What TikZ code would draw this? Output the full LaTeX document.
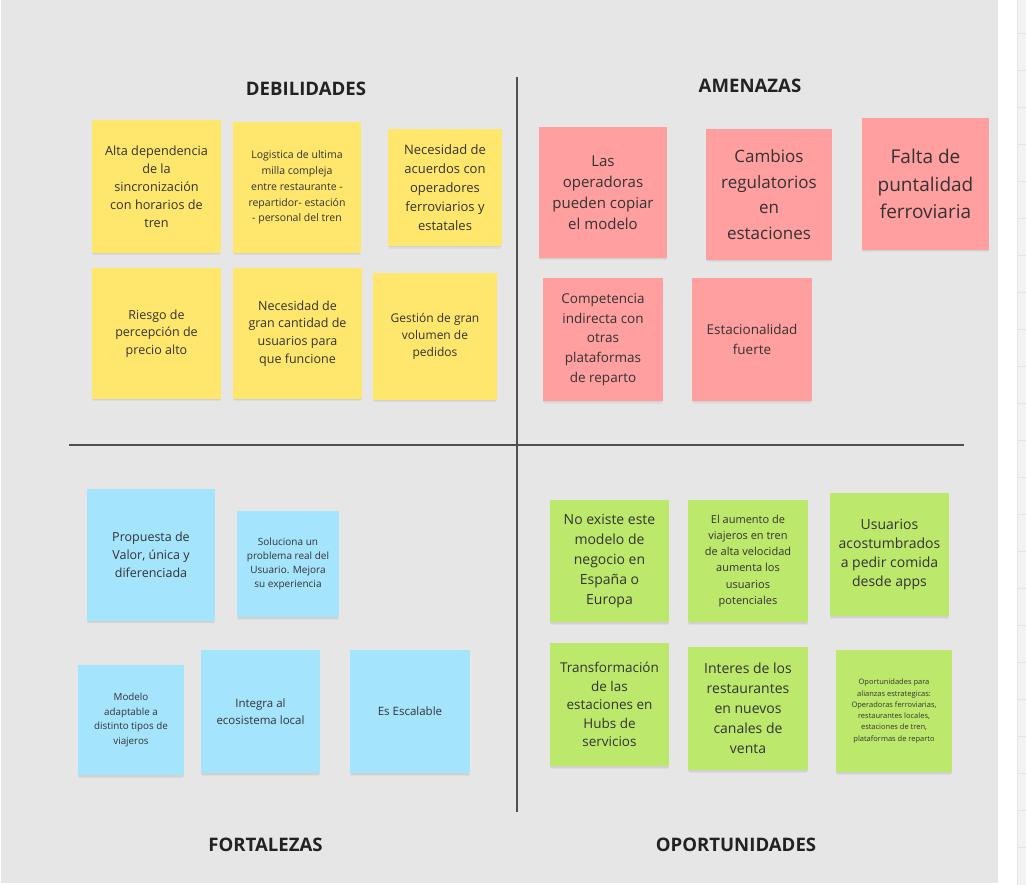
\documentclass[tikz,border=0pt]{standalone}
\usepackage{fontspec}
\setmainfont{Open Sans}
\usetikzlibrary{shadows}
\definecolor{bggray}{HTML}{E6E6E6}
\definecolor{gridgray}{HTML}{F3F3F3}
\definecolor{gridline}{HTML}{E4E4E4}
\definecolor{axis}{HTML}{505050}
\definecolor{notetext}{HTML}{333333}
\definecolor{titletext}{HTML}{222222}
\definecolor{yelnote}{HTML}{FFE66D}
\definecolor{rednote}{HTML}{FF9F9F}
\definecolor{bluenote}{HTML}{A5E4FD}
\definecolor{greennote}{HTML}{BCE86C}
\newcommand\fsz[2]{\fontsize{#1}{#2}\selectfont}
\tikzset{
  note/.style={draw=none, inner sep=0pt, align=center, text=notetext,
    drop shadow={shadow xshift=0pt, shadow yshift=-1.5pt, opacity=0.05, fill=black},
    drop shadow={shadow xshift=0pt, shadow yshift=-3.5pt, shadow scale=0.985, opacity=0.04, fill=black}},
  yel/.style={note, fill=yelnote},
  rednt/.style={note, fill=rednote},
  blu/.style={note, fill=bluenote},
  grn/.style={note, fill=greennote},
  sz/.style n args={2}{minimum width=#1pt, minimum height=#2pt},
  title/.style={font=\bfseries\fsz{18.6}{22}, text=titletext, inner sep=0pt},
  axisline/.style={draw=axis, line width=1.8pt}
}
\begin{document}
\begin{tikzpicture}[x=1pt,y=-1pt]
\useasboundingbox (0,0) rectangle (1026,885);
\fill[white] (0,0) rectangle (1026,885);
\fill[bggray] (1,0) rectangle (998,883);
\fill[gridgray] (1017,0) rectangle (1026,885);
\draw[gridline, line width=0.5pt] (1017,0) -- (1017,885);
\foreach \yy in {33,70,107,144,181,218,255,292,329,366,403,440,477,514,551,588,625,662,699,736,773,810,847}
  \draw[gridline, line width=0.5pt] (1017,\yy) -- (1026,\yy);

% axes
\coordinate (vtop) at (517,77);
\coordinate (vbot) at (517,812);
\coordinate (hleft) at (69,445);
\coordinate (hright) at (964,445);
\draw[axisline] (vtop) -- (vbot);
\draw[axisline] (hleft) -- (hright);

% titles
\node[title] (tdeb) at (306,89) {DEBILIDADES};
\node[title] (tame) at (750,86) {AMENAZAS};
\node[title] (tfor) at (265.5,845) {FORTALEZAS};
\node[title] (topo) at (736,845) {OPORTUNIDADES};

% DEBILIDADES (yellow)
\node[yel, sz={129}{133}, font=\fsz{12.7}{18}] (y1) at (156.5,186.5)
  {Alta dependencia\\de la\\sincronización\\con horarios de\\tren};
\node[yel, sz={128}{131}, font=\fsz{10.5}{15.8}] (y2) at (297,187.5)
  {Logistica de ultima\\milla compleja\\entre restaurante -\\repartidor- estación\\- personal del tren};
\node[yel, sz={114}{117}, font=\fsz{13}{19}] (y3) at (445,187.5)
  {Necesidad de\\acuerdos con\\operadores\\ferroviarios y\\estatales};
\node[yel, sz={129}{131}, font=\fsz{12.5}{17.7}] (y4) at (156.5,333.5)
  {Riesgo de\\percepción de\\precio alto};
\node[yel, sz={129}{131}, font=\fsz{12.5}{17.8}] (y5) at (297.5,333.5)
  {Necesidad de\\gran cantidad de\\usuarios para\\que funcione};
\node[yel, sz={124}{127}, font=\fsz{12}{17}] (y6) at (435,336.5)
  {Gestión de gran\\volumen de\\pedidos};

% AMENAZAS (red)
\node[rednt, sz={128}{131}, font=\fsz{15}{21}] (r1) at (603,192.5)
  {Las\\operadoras\\pueden copiar\\el modelo};
\node[rednt, sz={126}{131}, font=\fsz{17}{25.6}] (r2) at (769,194.5)
  {Cambios\\regulatorios\\en\\estaciones};
\node[rednt, sz={127}{132}, font=\fsz{19}{27.5}] (r3) at (925.5,184)
  {Falta de\\puntalidad\\ferroviaria};
\node[rednt, sz={120}{123}, font=\fsz{13.5}{19.8}] (r4) at (603,339.5)
  {Competencia\\indirecta con\\otras\\plataformas\\de reparto};
\node[rednt, sz={120}{123}, font=\fsz{13.5}{20}] (r5) at (752,339.5)
  {Estacionalidad\\fuerte};

% FORTALEZAS (blue)
\node[blu, sz={128}{132}, font=\fsz{12.5}{17.8}] (b1) at (151,555)
  {Propuesta de\\Valor, única y\\diferenciada};
\node[blu, sz={102}{106}, font=\fsz{10}{14}] (b2) at (288,564)
  {Soluciona un\\problema real del\\Usuario. Mejora\\su experiencia};
\node[blu, sz={106}{110}, font=\fsz{9.8}{14.7}] (b3) at (131,720)
  {Modelo\\adaptable a\\distinto tipos de\\viajeros};
\node[blu, sz={119}{123}, font=\fsz{11.5}{16.7}] (b4) at (260.5,711.5)
  {Integra al\\ecosistema local};
\node[blu, sz={120}{123}, font=\fsz{11.5}{17}] (b5) at (410,711.5)
  {Es Escalable};

% OPORTUNIDADES (green)
\node[grn, sz={119}{122}, font=\fsz{14}{19.8}] (g1) at (609.5,561)
  {No existe este\\modelo de\\negocio en\\España o\\Europa};
\node[grn, sz={120}{122}, font=\fsz{11}{16.1}] (g2) at (748,561)
  {El aumento de\\viajeros en tren\\de alta velocidad\\aumenta los\\usuarios\\potenciales};
\node[grn, sz={119}{123}, font=\fsz{14}{18.7}] (g3) at (889.5,554.5)
  {Usuarios\\acostumbrados\\a pedir comida\\desde apps};
\node[grn, sz={119}{123}, font=\fsz{13.5}{18.5}] (g4) at (609.5,704.5)
  {Transformación\\de las\\estaciones en\\Hubs de\\servicios};
\node[grn, sz={120}{123}, font=\fsz{14}{20}] (g5) at (748,708.5)
  {Interes de los\\restaurantes\\en nuevos\\canales de\\venta};
\node[grn, sz={116}{122}, font=\fsz{7.5}{11.3}] (g6) at (894,711)
  {Oportunidades para\\alianzas estrategicas:\\Operadoras ferroviarias,\\restaurantes locales,\\estaciones de tren,\\plataformas de reparto};
\end{tikzpicture}
\end{document}
